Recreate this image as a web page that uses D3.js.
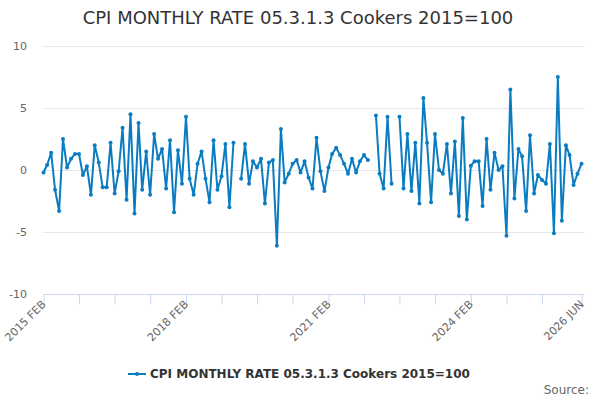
<!DOCTYPE html>
<html>
<head>
<meta charset="utf-8">
<script src="https://cdn.jsdelivr.net/npm/d3@7"></script>
<style>
  body { margin: 0; background: #fff; }
  svg { font-family: "DejaVu Sans", Verdana, sans-serif; }
</style>
</head>
<body>
<svg id="chart" width="600" height="400"></svg>
<script>
var title = 'CPI MONTHLY RATE 05.3.1.3 Cookers 2015=100';
var seriesName = 'CPI MONTHLY RATE 05.3.1.3 Cookers 2015=100';
var startMonth = '2015-02';
var endMonth = '2026-06';
// monthly rate, one value per month from 2015 FEB (null = no value)
var rates = [
  -0.2, 0.4, 1.4, -1.6, -3.3, 2.5, 0.2, 0.9, 1.3, 1.3, -0.4, 0.3,
  -2.0, 2.0, 0.6, -1.4, -1.4, 2.2, -1.9, -0.1, 3.4, -2.4, 4.5, -3.5,
  3.8, -1.6, 1.5, -2.0, 2.9, 0.9, 1.7, -1.5, 2.4, -3.4, 1.6, -1.1,
  4.3, -0.7, -2.0, 0.5, 1.5, -0.7, -2.6, 2.4, -1.6, -0.5, 2.1, -3.0,
  2.2, null, -0.7, 2.1, -1.1, 0.7, 0.2, 0.9, -2.7, 0.6, 0.8, -6.1,
  3.3, -1.0, -0.3, 0.5, 0.8, -0.2, 0.7, -0.6, -1.5, 2.6, -0.1, -1.7,
  0.2, 1.3, 1.8, 1.2, 0.5, -0.3, 0.9, -0.2, 0.7, 1.2, 0.8, null,
  4.4, -0.3, -1.5, 4.3, -1.1, null, 4.3, -1.5, 2.9, -1.7, 2.2, -2.7,
  5.8, 2.2, -2.6, 2.9, 0.0, -0.3, 2.1, -1.9, 2.3, -3.7, 4.2, -4.0,
  0.35, 0.7, 0.7, -2.9, 2.5, -1.6, 1.4, 0.0, 0.3, -5.3, 6.5, -2.3,
  1.7, 1.1, -3.3, 2.8, -1.9, -0.4, -0.8, -1.1, 2.1, -5.1, 7.5, -4.1,
  2.0, 1.2, -1.2, -0.3, 0.5
];
var yTicks = [-10, -5, 0, 5, 10];
var xLabelMonths = ['2015-02', '2018-02', '2021-02', '2024-02', '2026-06'];

var parseMonth = d3.timeParse('%Y-%m');
var fmtMonth = function (d) { return d3.timeFormat('%Y %b')(d).toUpperCase(); };
var start = parseMonth(startMonth);
var data = rates.map(function (v, i) {
  return { date: d3.timeMonth.offset(start, i), value: v };
});

var svg = d3.select('#chart');
var plotLeft = 43.5, plotRight = 581.5, plotTop = 46, plotBottom = 294;

var x = d3.scaleTime()
  .domain([start, parseMonth(endMonth)])
  .range([plotLeft, plotRight]);
var y = d3.scaleLinear()
  .domain([-10, 10])
  .range([plotBottom, plotTop]);

svg.append('text')
  .attr('x', 298)
  .attr('y', 24)
  .attr('text-anchor', 'middle')
  .attr('font-size', 18)
  .attr('fill', '#333')
  .text(title);

// gridlines
svg.append('g')
  .selectAll('line')
  .data(yTicks.filter(function (t) { return t > -10; }))
  .join('line')
  .attr('x1', plotLeft - 0.5)
  .attr('x2', plotRight + 3)
  .attr('y1', function (d) { return Math.round(y(d)) + 0.5; })
  .attr('y2', function (d) { return Math.round(y(d)) + 0.5; })
  .attr('stroke', '#e6e6e6');

// y labels
svg.append('g')
  .selectAll('text')
  .data(yTicks)
  .join('text')
  .attr('x', 27)
  .attr('y', function (d) { return y(d) + 4; })
  .attr('text-anchor', 'end')
  .attr('font-size', 11)
  .attr('fill', '#666')
  .text(function (d) { return d; });

// x axis: ticks every 9 months plus the last month
var tickDates = d3.range(0, 130, 9).map(function (i) { return d3.timeMonth.offset(start, i); });
tickDates.push(parseMonth(endMonth));

var xAxis = d3.axisBottom(x)
  .tickValues(tickDates)
  .tickSize(10)
  .tickFormat('');

var gx = svg.append('g')
  .attr('transform', 'translate(0,' + (plotBottom + 0.5) + ')')
  .call(xAxis);
gx.select('.domain').attr('stroke', '#ccd6eb').attr('d', 'M' + (plotLeft - 0.5) + ',0H' + (plotRight + 3));
gx.selectAll('.tick line').attr('stroke', '#ccd6eb');

svg.append('g')
  .selectAll('text')
  .data(xLabelMonths.map(parseMonth))
  .join('text')
  .attr('transform', function (d) { return 'translate(' + (x(d) + 3) + ',' + 305 + ') rotate(-45)'; })
  .attr('text-anchor', 'end')
  .attr('font-size', 11)
  .attr('fill', '#666')
  .text(fmtMonth);

// series
var color = '#0a7cc1';
var line = d3.line()
  .defined(function (d) { return d.value !== null; })
  .x(function (d) { return x(d.date); })
  .y(function (d) { return y(d.value); });

svg.append('path')
  .datum(data)
  .attr('d', line)
  .attr('fill', 'none')
  .attr('stroke', color)
  .attr('stroke-width', 2)
  .attr('stroke-linejoin', 'round');

svg.append('g')
  .selectAll('circle')
  .data(data.filter(function (d) { return d.value !== null; }))
  .join('circle')
  .attr('cx', function (d) { return x(d.date); })
  .attr('cy', function (d) { return y(d.value); })
  .attr('r', 2)
  .attr('fill', color);

// legend
var legend = svg.append('g').attr('transform', 'translate(128,374)');
legend.append('line')
  .attr('x1', 0).attr('x2', 18)
  .attr('y1', 0).attr('y2', 0)
  .attr('stroke', color)
  .attr('stroke-width', 2);
legend.append('circle')
  .attr('cx', 9).attr('cy', 0).attr('r', 2)
  .attr('fill', color);
legend.append('text')
  .attr('x', 22)
  .attr('y', 4)
  .attr('font-size', 12)
  .attr('font-weight', 'bold')
  .attr('fill', '#333')
  .text(seriesName);

svg.append('text')
  .attr('x', 589)
  .attr('y', 394)
  .attr('text-anchor', 'end')
  .attr('font-size', 12)
  .attr('fill', '#666')
  .text('Source:');
</script>
</body>
</html>
